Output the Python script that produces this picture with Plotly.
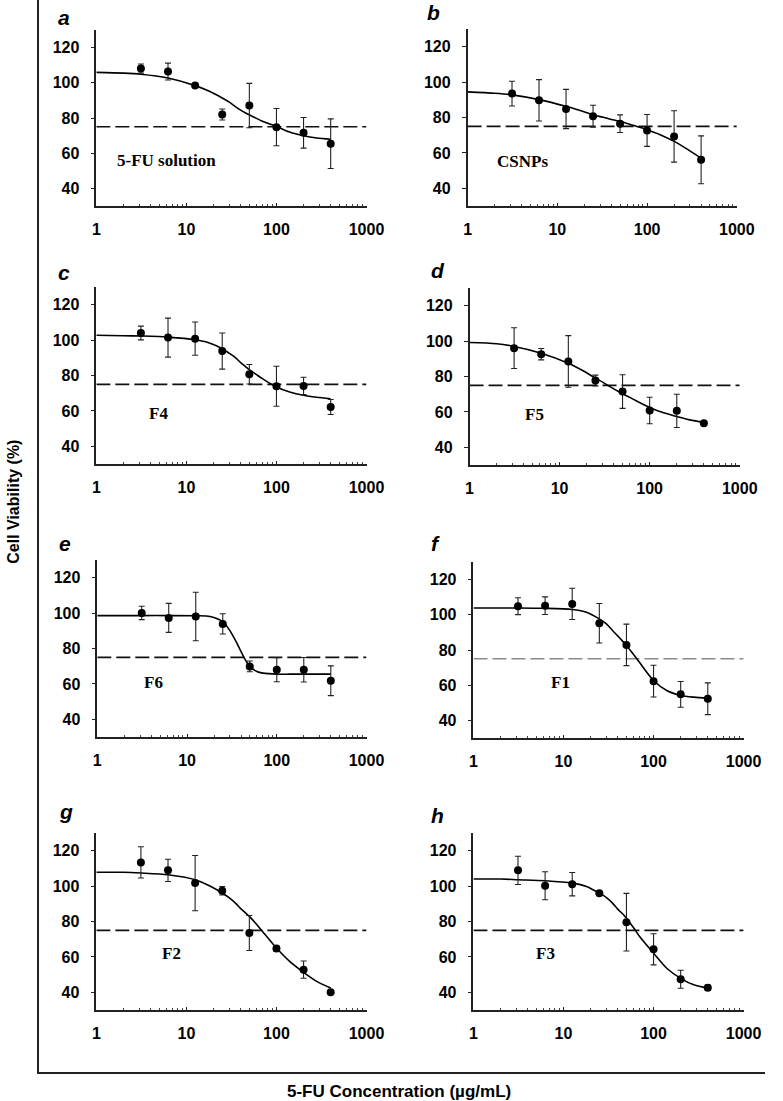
import plotly.graph_objects as go

W, H = 783, 1101

# ---------------- data ----------------
conc = [3.125, 6.25, 12.5, 25, 50, 100, 200, 400]
curve_conc = [1, 2, 3.125, 6.25, 12.5, 18, 25, 30, 35, 40, 45, 50, 60, 70, 100, 140, 200, 280, 400]
threshold = 75

panel_letters = ["a", "b", "c", "d", "e", "f", "g", "h"]
panel_names = ["5-FU solution", "CSNPs", "F4", "F5", "F6", "F1", "F2", "F3"]

viab_a = [108.1, 106.4, 98.4, 82.0, 87.1, 74.8, 71.6, 65.4]
err_a = [2.6, 4.8, 1.0, 3.1, 12.6, 10.6, 8.7, 14.1]
fit_a = [105.9, 105.5, 104.9, 102.7, 98.4, 95.2, 91.4, 89.0, 86.5, 84.5, 83.0, 81.8, 79.8, 78.2, 75.2, 72.0, 69.9, 68.6, 67.9]

viab_b = [93.5, 89.7, 84.8, 80.7, 76.5, 72.7, 69.3, 56.1]
err_b = [7.0, 11.7, 11.1, 6.2, 5.0, 9.0, 14.5, 13.5]
fit_b = [94.5, 93.7, 92.8, 90.1, 86.3, 83.9, 81.6, 80.5, 79.7, 78.9, 78.3, 77.8, 76.6, 75.6, 73.1, 70.3, 66.5, 62.1, 57.0]

viab_c = [104.0, 101.4, 100.8, 93.8, 80.7, 73.9, 74.1, 62.2]
err_c = [3.9, 11.0, 9.4, 10.2, 5.5, 11.3, 4.9, 4.2]
fit_c = [102.7, 102.5, 102.3, 101.7, 100.2, 98.4, 95.2, 92.5, 90.1, 87.3, 85.2, 83.3, 80.5, 78.2, 73.5, 70.7, 68.8, 67.7, 66.9]

viab_d = [96.0, 92.6, 88.5, 77.7, 71.5, 60.8, 60.6, 53.6]
err_d = [11.5, 3.2, 14.6, 3.1, 9.5, 7.5, 9.4, 1.0]
fit_d = [99.2, 98.5, 97.0, 93.2, 87.5, 83.4, 79.1, 76.8, 74.7, 73.0, 71.5, 70.2, 68.2, 66.4, 62.5, 59.6, 57.4, 55.5, 54.0]

viab_e = [100.1, 97.3, 98.1, 93.9, 69.9, 68.0, 68.0, 61.8]
err_e = [3.8, 8.2, 13.7, 5.7, 3.0, 6.8, 6.9, 8.4]
fit_e = [98.6, 98.6, 98.6, 98.6, 98.5, 98.1, 95.2, 90.1, 84.1, 78.2, 73.3, 69.9, 67.0, 66.1, 65.5, 65.5, 65.5, 65.5, 65.5]

viab_f = [104.9, 105.2, 106.2, 95.2, 82.9, 62.3, 54.8, 52.3]
err_f = [4.8, 5.0, 8.9, 11.2, 11.8, 9.0, 7.3, 9.0]
fit_f = [103.9, 103.9, 103.9, 103.7, 103.0, 101.5, 97.7, 94.8, 91.1, 88.0, 85.2, 82.6, 77.4, 72.9, 62.7, 57.0, 54.2, 53.2, 52.7]

viab_g = [113.4, 108.9, 101.7, 97.4, 73.5, 64.7, 52.8, 40.0]
err_g = [8.8, 6.3, 15.6, 2.4, 9.9, 1.5, 4.9, 1.0]
fit_g = [107.8, 107.8, 107.4, 106.4, 103.6, 100.2, 96.1, 93.3, 90.4, 87.3, 85.0, 82.9, 78.5, 74.4, 65.0, 57.5, 51.3, 46.2, 42.4]

viab_h = [108.9, 100.2, 101.1, 96.0, 79.6, 64.3, 47.4, 42.6]
err_h = [8.0, 7.9, 6.6, 1.0, 16.3, 8.8, 5.1, 1.5]
fit_h = [104.0, 104.0, 103.6, 103.0, 101.7, 99.8, 96.0, 93.5, 90.4, 87.0, 84.5, 81.9, 76.5, 71.5, 62.1, 53.6, 47.9, 44.2, 42.3]

x_ticks = [1, 10, 100, 1000]
x_minor = [m * d for d in (1, 10, 100) for m in range(2, 10)]
y_ticks = [40, 60, 80, 100, 120]

viab = [viab_a, viab_b, viab_c, viab_d, viab_e, viab_f, viab_g, viab_h]
errs = [err_a, err_b, err_c, err_d, err_e, err_f, err_g, err_h]
fits = [fit_a, fit_b, fit_c, fit_d, fit_e, fit_f, fit_g, fit_h]

# ---------------- layout geometry (pixels) ----------------
boxes = [  # x0, x1, y_top, y_bottom
    (95, 373, 30, 206), (477, 754, 29, 206),
    (95, 373, 287, 464), (479, 757, 288, 465),
    (96, 373, 560, 737), (483, 761, 562, 738),
    (95, 373, 833, 1010), (483, 761, 833, 1010),
]
letter_pos = [(53, 17), (433, 13), (53, 272), (437, 270),
              (55, 543), (437, 543), (55, 811), (437, 815)]
name_pos = [(167, 160), (533, 162), (159, 413), (546, 414),
            (154, 683), (573, 683), (172, 953), (557, 953)]
dash_colors = ["#111"] * 5 + ["#8a8a8a"] + ["#111"] * 2
TICKFONT = dict(family="Liberation Sans, Arial", size=16, color="black")


def px(x):
    return x / W


def py(y):
    return 1 - y / H


fig = go.Figure()
annotations = []
for i in range(8):
    sfx = "" if i == 0 else str(i + 1)
    xa, ya = "x" + sfx, "y" + sfx
    x0, x1, yt, yb = boxes[i]
    fig.add_trace(go.Scatter(
        x=[x_ticks[0], x_ticks[-1]], y=[threshold, threshold], mode="lines",
        line=dict(color=dash_colors[i], width=1.6, dash="14px,5px"),
        xaxis=xa, yaxis=ya, showlegend=False, hoverinfo="skip"))
    fig.add_trace(go.Scatter(
        x=curve_conc, y=fits[i], mode="lines",
        line=dict(color="black", width=1.6, shape="spline", smoothing=0.8),
        xaxis=xa, yaxis=ya, showlegend=False))
    fig.add_trace(go.Scatter(
        x=conc, y=viab[i], mode="markers",
        marker=dict(color="black", size=8),
        error_y=dict(type="data", array=errs[i], color="#222", thickness=1.1, width=3),
        xaxis=xa, yaxis=ya, showlegend=False))
    fig.layout["xaxis" + sfx] = dict(
        type="log", range=[0, 3], domain=[px(x0), px(x1)], anchor=ya,
        tickvals=x_ticks, ticktext=["<b>%d</b>" % v for v in x_ticks],
        showline=True, linecolor="#222", linewidth=1.5, showgrid=False, zeroline=False,
        ticks="inside", ticklen=3, tickcolor="#222",
        minor=dict(tickvals=x_minor, ticks="inside", ticklen=2, tickcolor="#444", showgrid=False),
        tickfont=TICKFONT, ticklabelstandoff=8, fixedrange=True)
    fig.layout["yaxis" + sfx] = dict(
        range=[30, 130], domain=[py(yb), py(yt)], anchor=xa,
        tickvals=y_ticks, ticktext=["<b>%d</b>" % v for v in y_ticks],
        showline=True, linecolor="#222", linewidth=1.5,
        showgrid=False, zeroline=False, ticks="outside", ticklen=4, tickcolor="#222",
        tickfont=TICKFONT, ticklabelstandoff=8, fixedrange=True)
    lx, ly = letter_pos[i]
    annotations.append(dict(
        text="<b><i>%s</i></b>" % panel_letters[i], x=px(lx), y=py(ly),
        xref="paper", yref="paper", xanchor="left", yanchor="middle", showarrow=False,
        font=dict(family="Liberation Sans, Arial", size=21, color="black")))
    nx, ny = name_pos[i]
    annotations.append(dict(
        text="<b>%s</b>" % panel_names[i], x=px(nx), y=py(ny),
        xref="paper", yref="paper", xanchor="center", yanchor="middle", showarrow=False,
        font=dict(family="Liberation Serif, Times New Roman", size=17, color="black")))

annotations.append(dict(
    text="<b>5-FU Concentration (µg/mL)</b>", x=px(406), y=py(1091),
    xref="paper", yref="paper", xanchor="center", yanchor="middle", showarrow=False,
    font=dict(family="Liberation Sans, Arial", size=17, color="black")))
annotations.append(dict(
    text="<b>Cell Viability (%)</b>", x=px(9), y=py(502), textangle=-90,
    xref="paper", yref="paper", xanchor="center", yanchor="middle", showarrow=False,
    font=dict(family="Liberation Sans, Arial", size=16, color="black")))

shapes = [
    dict(type="line", xref="paper", yref="paper", x0=px(35), x1=px(35), y0=py(0), y1=py(1073),
         line=dict(color="#222", width=2)),
    dict(type="line", xref="paper", yref="paper", x0=px(34), x1=px(783), y0=py(1073), y1=py(1073),
         line=dict(color="#222", width=2)),
]

fig.update_layout(
    width=W, height=H, margin=dict(l=0, r=0, t=0, b=0),
    paper_bgcolor="white", plot_bgcolor="white",
    annotations=annotations, shapes=shapes, showlegend=False)

fig.write_html("out.html", config={"displayModeBar": False},
               post_script="document.body.style.margin='0';document.body.style.overflow='hidden';")
